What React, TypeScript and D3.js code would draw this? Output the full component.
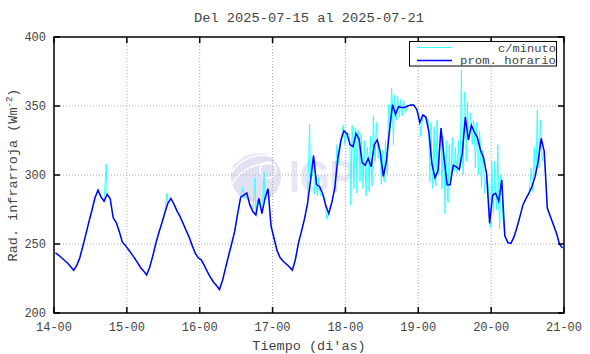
import React from 'react';
import * as d3 from 'd3';

const W = 590;
const H = 354;

const dayLabels = ['14-00', '15-00', '16-00', '17-00', '18-00', '19-00', '20-00', '21-00'];
const yTicks = [200, 250, 300, 350, 400];

// hourly means (W m-2), one value per hour, plotted at mid hour
const jul14 = [243.5, 242, 240, 238, 236, 233.5, 231, 234.5, 240, 248.5, 257, 266, 274.5, 283.5, 289, 284, 281, 286, 283, 269, 265.5, 259, 251.5, 249];
const jul15 = [246, 243, 240, 236.5, 233, 230.5, 227.5, 233, 241, 250, 258, 265, 272.5, 279.5, 283, 279, 274, 270, 265, 260, 255, 249, 243.5, 240];
const jul16 = [238.5, 234.5, 230, 226, 222.5, 220, 217, 223.5, 232.5, 241.5, 250, 259, 272, 284, 285.5, 287, 278.5, 273.5, 271, 283, 272, 283, 290, 263];
const jul17 = [254, 245, 240, 237.5, 235.5, 233.5, 231, 238.5, 250.5, 259, 268, 279, 296, 314, 293, 291.5, 286.5, 278, 272, 280, 290.5, 312, 325, 332];
const jul18 = [330, 322, 320.5, 330, 326, 309, 307, 312, 306, 322, 325.5, 316, 299, 310, 332, 351, 344, 349.5, 349, 349, 350, 350.7, 350.7, 347.5];
const jul19 = [338, 343.5, 342, 331, 308, 298, 303, 334, 312, 293, 293, 307, 306, 304, 316, 342, 325.5, 336, 331, 327, 318, 312.5, 301, 265];
const jul20 = [285.5, 286.7, 281, 296.4, 256, 251, 250.5, 255, 262, 270, 278.5, 283, 287, 292, 299, 310, 326.5, 317, 276, 270, 264, 258, 250, 247];

const hourly = [...jul14, ...jul15, ...jul16, ...jul17, ...jul18, ...jul19, ...jul20];

// per-minute readings: [hour, highest, lowest] where they leave the hourly mean
const minuteSpikes = [
  [17, 308, 284], [37, 287, 280], [62, 291, 283], [66, 298, 280], [69, 302, 284],
  [84, 337, 300], [85, 300, 286], [86, 300, 285], [87, 298, 285], [89, 283, 268],
  [93, 322, 308], [95, 336, 322], [97, 330, 278], [98, 336, 290], [99, 334, 287],
  [100, 333, 295], [101, 330, 290], [102, 325, 285], [103, 320, 288], [104, 328, 292],
  [105, 343, 310], [106, 338, 312], [107, 322, 293], [108, 318, 295], [109, 325, 300],
  [110, 351, 336], [111, 363, 322], [112, 358, 340], [113, 357, 342], [114, 355, 343],
  [115, 354, 345], [120, 345, 328], [123, 340, 295], [124, 338, 290], [125, 335, 292],
  [126, 340, 300], [127, 330, 290], [128, 328, 272], [129, 325, 280], [130, 322, 301],
  [131, 327, 303], [132, 320, 301], [133, 325, 305], [134, 376, 300], [135, 360, 310],
  [136, 353, 325], [137, 345, 322], [138, 340, 305], [139, 338, 300], [140, 332, 291],
  [141, 318, 287], [143, 290, 262], [144, 310, 272], [145, 310, 275], [146, 322, 261],
  [147, 300, 270], [157, 305, 288], [158, 320, 300], [159, 347, 305], [160, 340, 310],
];

const font = '"Liberation Mono", "DejaVu Sans Mono", monospace';
const ink = '#444';

const App = () => {
  const x = d3.scaleLinear().domain([0, 168]).range([54, 564]);
  const y = d3.scaleLinear().domain([200, 400]).range([313, 37]);

  const hourPts = hourly.map((v, i) => [i + 0.5, v]);
  const minutePts = [];
  hourly.forEach((v, i) => {
    const s = minuteSpikes.find(d => d[0] === i);
    if (s) {
      minutePts.push([i + 0.2, s[1]]);
      minutePts.push([i + 0.5, v]);
      minutePts.push([i + 0.8, s[2]]);
    } else {
      minutePts.push([i + 0.5, v]);
    }
  });

  const line = d3.line().x(d => x(d[0])).y(d => y(d[1]));

  return (
    <svg width={W} height={H} style={{ position: 'absolute', left: 0, top: 0, background: '#fff' }}>
      {/* watermark */}
      <g opacity={0.85}>
        <circle cx={256} cy={177} r={25} fill="#dcdcf2" />
        <path d="M236,163 A30,30 0 0 1 262,153" stroke="#fff" strokeWidth={1.5} fill="none" />
        <path d="M232,172 A36,36 0 0 1 270,156" stroke="#fff" strokeWidth={1.5} fill="none" />
        <path d="M232,184 A40,40 0 0 1 276,165" stroke="#fff" strokeWidth={1.5} fill="none" />
        <circle cx={268} cy={170} r={8} fill="none" stroke="#fff" strokeWidth={1.5} />
        <text x={289} y={192} fontFamily="Liberation Sans, Arial, sans-serif" fontWeight="bold"
          fontSize={44} fill="#e2e2f4" textLength={66} lengthAdjust="spacingAndGlyphs">IGP</text>
      </g>

      {/* grid */}
      {yTicks.slice(1, -1).map(t => (
        <line key={'gy' + t} x1={54} x2={564} y1={y(t)} y2={y(t)} stroke="#aaa" strokeDasharray="1,2" />
      ))}
      {dayLabels.slice(1, -1).map((d, i) => (
        <line key={'gx' + d} x1={x((i + 1) * 24)} x2={x((i + 1) * 24)} y1={37} y2={313} stroke="#aaa" strokeDasharray="1,2" />
      ))}

      {/* series */}
      <path d={line(minutePts)} fill="none" stroke="#33ffff" strokeWidth={1} />
      <path d={line(hourPts)} fill="none" stroke="#0000ff" strokeWidth={1.5} />

      {/* frame and ticks */}
      <rect x={54} y={37} width={510} height={276} fill="none" stroke="#000" strokeWidth={1.5} />
      {yTicks.map(t => (
        <g key={'ty' + t}>
          <line x1={54} x2={60} y1={y(t)} y2={y(t)} stroke="#000" strokeWidth={1.5} />
          <line x1={558} x2={564} y1={y(t)} y2={y(t)} stroke="#000" strokeWidth={1.5} />
          <text x={46} y={y(t)} dy="0.35em" textAnchor="end" fontFamily={font} fontSize={12} fill={ink}>{t}</text>
        </g>
      ))}
      {dayLabels.map((d, i) => (
        <g key={'tx' + d}>
          <line x1={x(i * 24)} x2={x(i * 24)} y1={313} y2={307} stroke="#000" strokeWidth={1.5} />
          <line x1={x(i * 24)} x2={x(i * 24)} y1={37} y2={43} stroke="#000" strokeWidth={1.5} />
          <text x={x(i * 24)} y={331} textAnchor="middle" fontFamily={font} fontSize={12} fill={ink}>{d}</text>
        </g>
      ))}

      {/* titles */}
      <text x={309} y={22} textAnchor="middle" fontFamily={font} fontSize={13.7} fill={ink}>Del 2025-07-15 al 2025-07-21</text>
      <text x={309} y={350} textAnchor="middle" fontFamily={font} fontSize={13.5} fill={ink}>Tiempo (di'as)</text>
      <text transform="rotate(-90)" x={-175} y={17} textAnchor="middle" fontFamily={font} fontSize={13.5} fill={ink}>
        Rad. infrarroja (Wm<tspan dy={-5} fontSize={9}>-2</tspan><tspan dy={5}>)</tspan>
      </text>

      {/* legend */}
      <rect x={409.5} y={41.5} width={147} height={24.5} fill="#fff" stroke="#000" strokeWidth={1} />
      <line x1={417} x2={452} y1={47.5} y2={47.5} stroke="#33ffff" strokeWidth={1} />
      <line x1={417} x2={452} y1={60.5} y2={60.5} stroke="#0000ff" strokeWidth={1.5} />
      <text x={556} y={51.5} textAnchor="end" fontFamily={font} fontSize={11.2} fill={ink}
        textLength={58} lengthAdjust="spacingAndGlyphs">c/minuto</text>
      <text x={556} y={64} textAnchor="end" fontFamily={font} fontSize={11.2} fill={ink}
        textLength={96} lengthAdjust="spacingAndGlyphs">prom. horario</text>
    </svg>
  );
};

export default App;
